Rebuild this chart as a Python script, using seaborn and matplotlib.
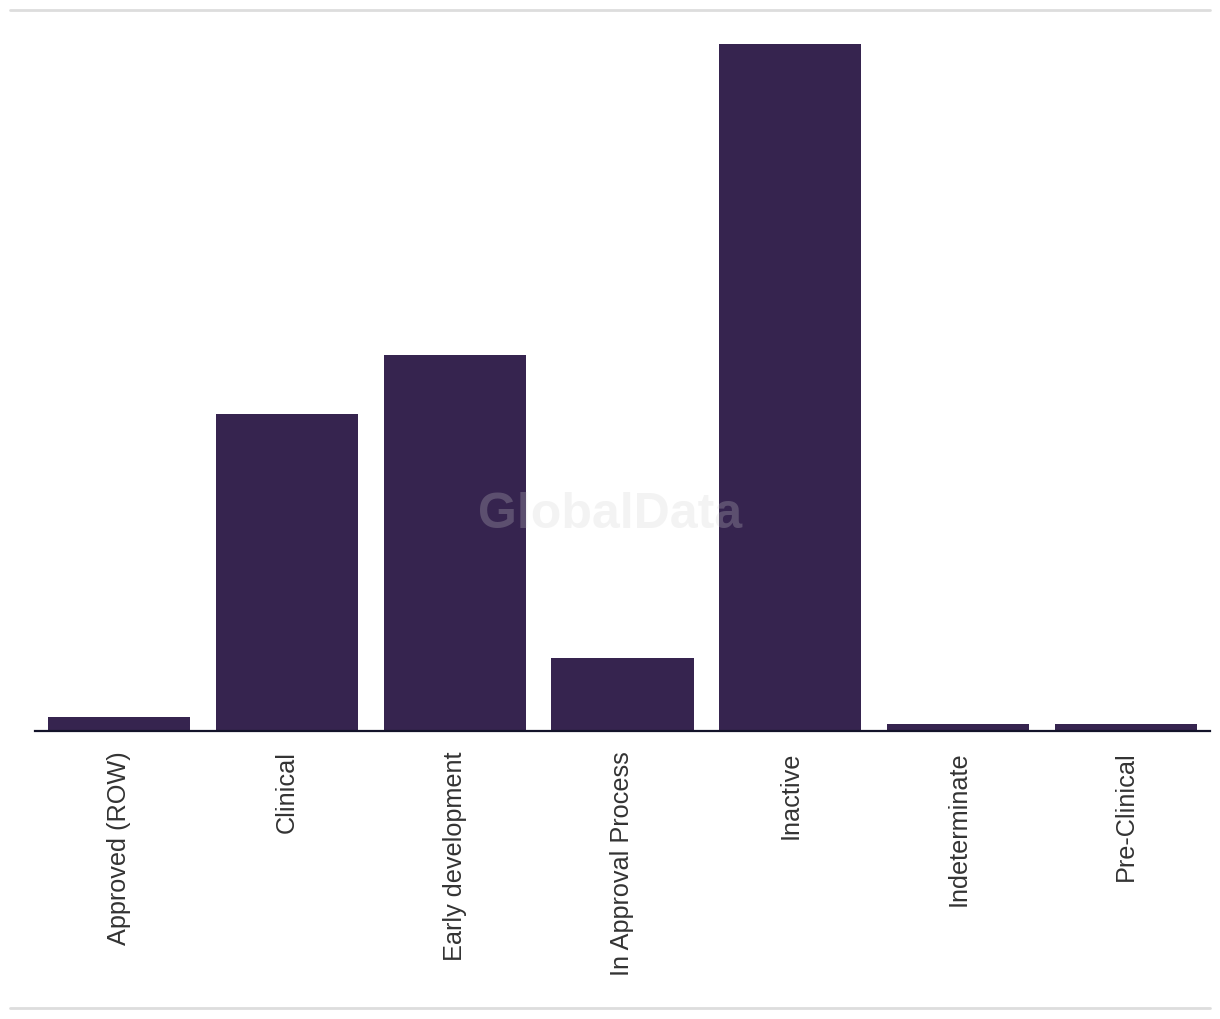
import matplotlib
matplotlib.use("Agg")
import matplotlib.pyplot as plt
from matplotlib.lines import Line2D
import seaborn as sns
import pandas as pd

# values
stages = ["Approved (ROW)", "Clinical", "Early development", "In Approval Process",
          "Inactive", "Indeterminate", "Pre-Clinical"]
counts = [2, 45.2, 53.6, 10.4, 98, 1, 1]

barColor = "#36244f"

sns.set_theme(style="white")
plt.rcParams["font.family"] = ["Liberation Sans", "DejaVu Sans"]

df = pd.DataFrame({"Stage": stages, "Count": counts})

fig = plt.figure(figsize=(12.2, 10.2), dpi=100)
ax = fig.add_axes([35 / 1220, 1 - 732 / 1020, 1175 / 1220, 701 / 1020])

sns.barplot(data=df, x="Stage", y="Count", color=barColor, saturation=1,
            width=0.846, linewidth=0, ax=ax)

ax.set_ylim(0, 100)
ax.set_xlim(-0.5, len(stages) - 0.5)
ax.set_xlabel("")
ax.set_ylabel("")
ax.set_yticks([])
for side in ["top", "right", "left"]:
    ax.spines[side].set_visible(False)
ax.spines["bottom"].set_color("#14142a")
ax.spines["bottom"].set_linewidth(1.6)
ax.tick_params(axis="x", length=0, pad=14, labelsize=18.2, labelcolor="#333333")
plt.setp(ax.get_xticklabels(), rotation=90, va="top", ha="center")

# watermark
fig.text(610 / 1220, 1 - 515 / 1020, "GlobalData", ha="center", va="center",
         fontsize=36, fontweight="bold", color="#d0d0d0", alpha=0.25)

# thin grey rules at top and bottom
for yy in [1 - 11 / 1020, 1 - 1009 / 1020]:
    fig.add_artist(Line2D([10 / 1220, 1210 / 1220], [yy, yy],
                          transform=fig.transFigure, color="#dddddd", linewidth=2))

fig.savefig("out.png", dpi=100)
